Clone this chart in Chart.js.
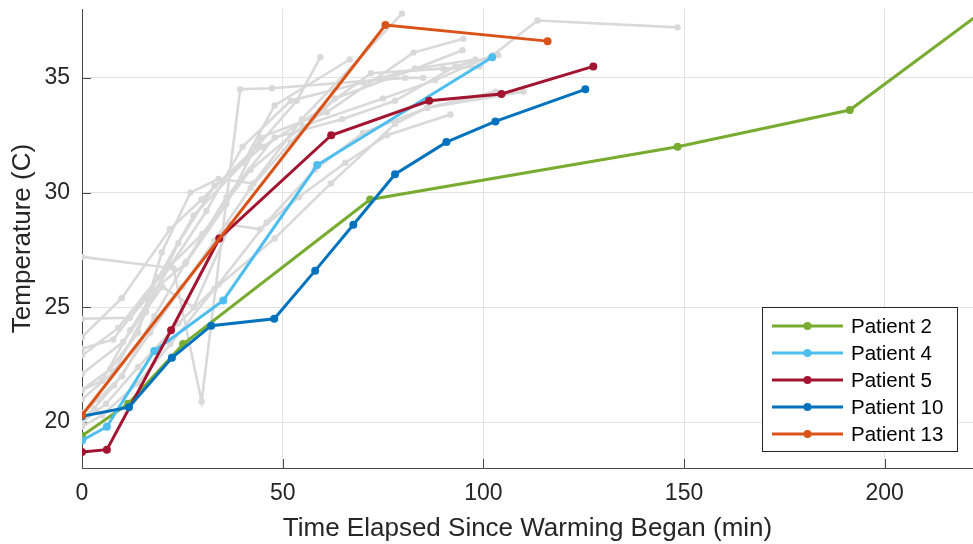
<!DOCTYPE html>
<html>
<head>
<meta charset="utf-8">
<title>Rewarming temperature by patient</title>
<script src="https://cdn.jsdelivr.net/npm/chart.js@4/dist/chart.umd.min.js"></script>
<style>
  html, body { margin: 0; padding: 0; background: #fff; }
  #wrap { width: 973px; height: 544px; position: relative; }
</style>
</head>
<body>
<div id="wrap"><canvas id="chart" width="973" height="544"></canvas></div>
<script>
// ── Axis ticks ───────────────────────────────────────────────────────── //
const xTicks = [0, 50, 100, 150, 200];
const yTicks = [20, 25, 30, 35];

// ── Highlighted patients: time (min) / temperature (C) ─────────────── //
const p2Time  = [0, 11.5, 25.2, 71.8, 148.4, 191.3, 226];
const p2Temp  = [19.4, 20.8, 23.4, 29.7, 32.0, 33.6, 38.1];
const p4Time  = [0, 6.2, 18, 35.2, 58.6, 102.2];
const p4Temp  = [19.2, 19.8, 23.1, 25.3, 31.2, 35.9];
const p5Time  = [0, 6.2, 22.2, 34.2, 62.1, 86.5, 104.5, 127.4];
const p5Temp  = [18.7, 18.8, 24.0, 28.0, 32.5, 34.0, 34.3, 35.5];
const p10Time = [0, 11.7, 22.4, 32.2, 47.9, 58.1, 67.6, 78, 90.8, 103, 125.4];
const p10Temp = [20.25, 20.65, 22.8, 24.2, 24.5, 26.6, 28.6, 30.8, 32.2, 33.1, 34.5];
const p13Time = [0, 75.6, 116];
const p13Temp = [20.3, 37.3, 36.6];

// ── Other patients (grey background traces), [time, temp] pairs ─────── //
const grey1  = [[0,27.2],[22.8,26.7],[29.8,20.9],[39.4,34.5],[47.3,34.55],[80.5,35.0],[85,35.0]];
const grey2  = [[0,23.7],[9.9,25.4],[21.9,28.4],[29.8,29.7],[43.6,32.0],[53.5,34.0],[59.4,35.9]];
const grey3  = [[0,24.5],[12,24.55],[16.1,25.4],[27.8,29.0],[40.2,31.3],[48,33.8],[66.7,35.8]];
const grey4  = [[0,21.4],[7,22.3],[14,23.9],[19.9,27.4],[27,30.0],[34,30.6],[42.7,30.4],[54.8,33.2],[79.7,37.8]];
const grey5  = [[0,23.2],[7.8,23.6],[16,25.5],[25.7,26.9],[36,29.5],[44.4,32.4],[61,33.5],[82.6,36.1],[95,36.7]];
const grey6  = [[0,22.1],[10.3,23.5],[20,25.9],[27.8,25.0],[37,28.6],[44.4,28.4],[54,29.8],[65.6,31.3],[76,32.5],[91.8,33.4]];
const grey7  = [[0,20.0],[6,20.8],[14,22.4],[24,24.3],[34,26.0],[46,28.7],[58,31.0],[70,32.6],[86,33.7],[110,34.4]];
const grey8  = [[0,20.4],[4,21.0],[10,22.0],[18,24.6],[26,27.0],[36,29.8],[48,32.4],[64.8,33.2],[78,34.0],[93,35.5],[103.7,36.0]];
const grey9  = [[0,21.4],[5,21.8],[12,24.0],[22,26.8],[31,29.2],[40,32.0],[52,34.0],[70,34.8],[83,35.4],[98,35.8]];
const grey10 = [[0,22.9],[9,24.1],[19,26.3],[30,28.2],[42,31.0],[55,32.9],[75,34.1],[88,34.9],[102.5,36.0],[113.5,37.5],[148.4,37.2]];
const grey11 = [[0,19.8],[5,20.3],[14,21.7],[22,23.4],[33,25.8],[48,28.0],[62,30.4],[78,33.0],[86,33.7],[103,34.4]];
const grey12 = [[0,20.1],[3,20.6],[8,21.6],[17,23.9],[25,25.9],[33,27.9],[42,30.2],[52,32.2],[63,34.1],[83,35.4],[94.8,36.2]];
const grey13 = [[0,21.0],[8,22.2],[16,24.8],[24,27.8],[33,30.3],[45,32.0],[59.4,33.6],[72,35.2],[90,35.4],[99,35.5]];

const FONT = '"Liberation Sans", Arial, Helvetica, sans-serif';
const TEXT = '#262626';
const GREY = '#d9d9d9';

function pairs(xs, ys) {
  return xs.map(function (x, i) { return { x: x, y: ys[i] }; });
}

function highlight(label, xs, ys, color, order) {
  return {
    label: label,
    data: pairs(xs, ys),
    borderColor: color,
    backgroundColor: color,
    pointBackgroundColor: color,
    borderWidth: 3,
    pointRadius: 4,
    pointBorderWidth: 0,
    order: order,
  };
}

const highlighted = [
  highlight('Patient 2',  p2Time,  p2Temp,  '#77AC30', 4),
  highlight('Patient 4',  p4Time,  p4Temp,  '#4DBEEE', 3),
  highlight('Patient 5',  p5Time,  p5Temp,  '#A2142F', 2),
  highlight('Patient 10', p10Time, p10Temp, '#0072BD', 1),
  highlight('Patient 13', p13Time, p13Temp, '#D95319', 0),
];

const greyTraces = [grey1, grey2, grey3, grey4, grey5, grey6, grey7, grey8,
                    grey9, grey10, grey11, grey12, grey13].map(function (g) {
  return {
    label: '',
    data: g.map(function (p) { return { x: p[0], y: p[1] }; }),
    borderColor: GREY,
    backgroundColor: GREY,
    pointBackgroundColor: GREY,
    borderWidth: 2.6,
    pointRadius: 3.2,
    pointBorderWidth: 0,
    order: 10,
  };
});

// ── MATLAB-style inward tick marks ──────────────────────────────────── //
const inwardTicks = {
  id: 'inwardTicks',
  beforeDatasetsDraw: function (chart) {
    const ctx = chart.ctx, area = chart.chartArea;
    const xs = chart.scales.x, ys = chart.scales.y;
    ctx.save();
    ctx.strokeStyle = '#4a4a4a';
    ctx.lineWidth = 1;
    ctx.beginPath();
    xTicks.forEach(function (v) {
      const px = Math.round(xs.getPixelForValue(v)) + 0.5;
      ctx.moveTo(px, area.bottom);
      ctx.lineTo(px, area.bottom - 9);
    });
    yTicks.forEach(function (v) {
      const py = Math.round(ys.getPixelForValue(v)) + 0.5;
      ctx.moveTo(area.left, py);
      ctx.lineTo(area.left + 9, py);
    });
    ctx.stroke();
    ctx.restore();
  }
};

// ── Legend box (line + marker samples) ──────────────────────────────── //
const boxLegend = {
  id: 'boxLegend',
  afterDraw: function (chart) {
    const ctx = chart.ctx;
    const bx = 762.5, by = 307.5, bw = 195, bh = 144;
    ctx.save();
    ctx.fillStyle = '#fff';
    ctx.fillRect(bx, by, bw, bh);
    ctx.strokeStyle = '#262626';
    ctx.lineWidth = 1;
    ctx.strokeRect(bx, by, bw, bh);
    highlighted.forEach(function (ds, i) {
      const cy = 326 + i * 27;
      ctx.strokeStyle = ds.borderColor;
      ctx.lineWidth = 3;
      ctx.beginPath();
      ctx.moveTo(772, cy);
      ctx.lineTo(843, cy);
      ctx.stroke();
      ctx.fillStyle = ds.borderColor;
      ctx.beginPath();
      ctx.arc(807.5, cy, 4, 0, Math.PI * 2);
      ctx.fill();
      ctx.fillStyle = '#000';
      ctx.font = '20.5px ' + FONT;
      ctx.textBaseline = 'middle';
      ctx.textAlign = 'left';
      ctx.fillText(ds.label, 851, cy + 1);
    });
    ctx.restore();
  }
};

new Chart(document.getElementById('chart').getContext('2d'), {
  type: 'line',
  data: { datasets: highlighted.concat(greyTraces) },
  options: {
    responsive: false,
    animation: false,
    layout: { autoPadding: false, padding: { top: 9, right: 0, left: 0, bottom: 0 } },
    plugins: {
      legend: { display: false },
      tooltip: { enabled: false },
    },
    scales: {
      x: {
        type: 'linear',
        min: 0,
        max: 222,
        afterBuildTicks: function (s) { s.ticks = xTicks.map(function (v) { return { value: v }; }); },
        afterFit: function (s) { s.height = 76; s.paddingLeft = 0; s.paddingRight = 0; },
        grid: { color: '#e2e2e2', lineWidth: 1, drawTicks: false },
        border: { display: true, color: '#4a4a4a', width: 1 },
        ticks: { color: TEXT, padding: 12, font: { family: FONT, size: 23 }, maxRotation: 0 },
        title: {
          display: true,
          text: 'Time Elapsed Since Warming Began (min)',
          color: TEXT,
          font: { family: FONT, size: 26 },
          padding: { top: 0, bottom: 0 },
        },
      },
      y: {
        type: 'linear',
        min: 18,
        max: 38,
        afterBuildTicks: function (s) { s.ticks = yTicks.map(function (v) { return { value: v }; }); },
        afterFit: function (s) { s.width = 82; s.paddingTop = 0; s.paddingBottom = 0; },
        grid: { color: '#e2e2e2', lineWidth: 1, drawTicks: false },
        border: { display: true, color: '#4a4a4a', width: 1 },
        ticks: { color: TEXT, padding: 12, font: { family: FONT, size: 23 } },
        title: {
          display: true,
          text: 'Temperature (C)',
          color: TEXT,
          font: { family: FONT, size: 26 },
          padding: { top: 7, bottom: 0 },
        },
      },
    },
  },
  plugins: [inwardTicks, boxLegend],
});
</script>
</body>
</html>
